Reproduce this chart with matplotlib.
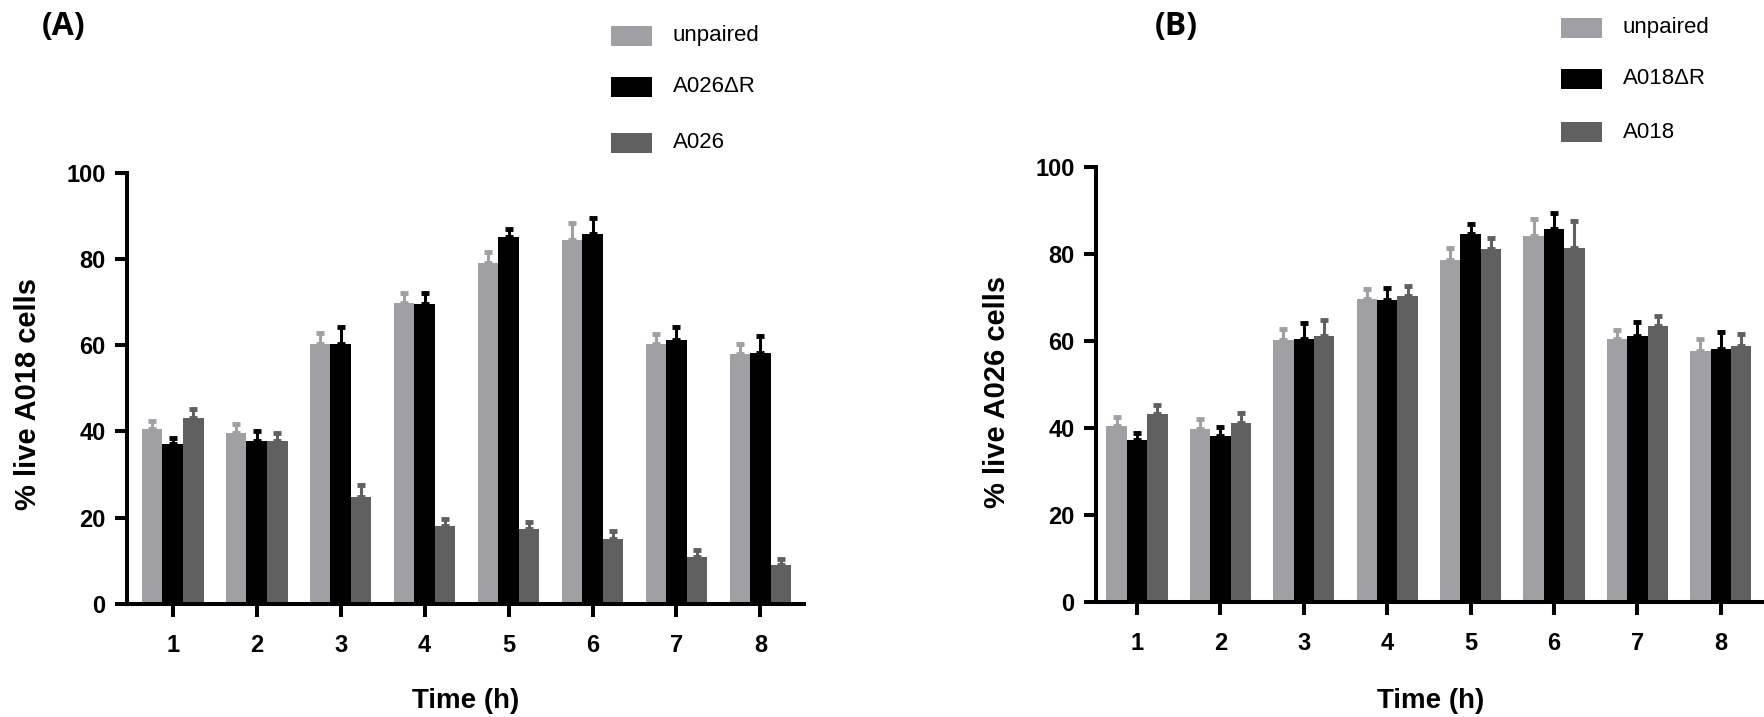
import numpy as np
import matplotlib.pyplot as plt
from matplotlib.patches import Rectangle

plt.rcParams['font.family'] = ['Liberation Sans', 'DejaVu Sans']

hours = [1, 2, 3, 4, 5, 6, 7, 8]
colors = ['#a0a0a4', '#000000', '#606060']

# panel A: % live A018 cells
labels_a = ['unpaired', 'A026\u0394R', 'A026']
unpaired_a = [40.5, 39.7, 60.3, 69.9, 79.0, 84.4, 60.4, 58.0]
unpaired_a_err = [2.0, 2.0, 2.5, 2.1, 2.7, 4.0, 2.2, 2.4]
delta_a = [37.0, 37.9, 60.4, 69.5, 85.0, 85.9, 61.1, 58.1]
delta_a_err = [1.6, 2.2, 3.9, 2.5, 1.9, 3.5, 3.2, 4.0]
a026 = [43.1, 37.7, 24.9, 18.2, 17.3, 15.0, 10.8, 9.0]
a026_err = [2.0, 2.0, 2.6, 1.6, 1.6, 2.0, 1.7, 1.4]

# panel B: % live A026 cells
labels_b = ['unpaired', 'A018\u0394R', 'A018']
unpaired_b = [40.5, 39.8, 60.2, 69.7, 78.6, 84.2, 60.5, 57.8]
unpaired_b_err = [2.2, 2.3, 2.6, 2.3, 2.9, 4.0, 2.1, 2.7]
delta_b = [37.3, 38.2, 60.5, 69.4, 84.6, 85.7, 61.1, 58.2]
delta_b_err = [1.7, 2.2, 3.8, 2.8, 2.3, 3.7, 3.3, 4.0]
a018 = [43.2, 41.1, 61.2, 70.4, 81.1, 81.4, 63.4, 58.9]
a018_err = [2.2, 2.3, 3.6, 2.2, 2.6, 6.2, 2.3, 2.8]

fig = plt.figure(figsize=(17.65, 7.17), dpi=100)
ax_a = fig.add_axes([0.0720, 0.1576, 0.3836, 0.6015])
ax_b = fig.add_axes([0.6210, 0.1600, 0.3790, 0.6067])

width = 0.245


def draw_panel(ax, series, errs, ylabel, xlim, ylab_xy, xlab_y):
    x = np.array(hours, dtype=float)
    for i, (vals, err) in enumerate(zip(series, errs)):
        pos = x + (i - 1) * width
        ax.bar(pos, vals, width=width, color=colors[i], linewidth=0)
        ax.errorbar(pos, vals, yerr=[np.zeros(len(err)), err], fmt='none',
                    ecolor=colors[i], elinewidth=2.2, capsize=3, capthick=3.5)
    ax.set_xlim(*xlim)
    ax.set_ylim(0, 100)
    ax.set_yticks([0, 20, 40, 60, 80, 100])
    ax.set_xticks(hours)
    for s in ['top', 'right']:
        ax.spines[s].set_visible(False)
    for s in ['left', 'bottom']:
        ax.spines[s].set_linewidth(2.9)
    ax.tick_params(axis='y', length=8.5, width=2.9, pad=7, labelsize=17)
    ax.tick_params(axis='x', length=9.5, width=2.9, pad=12, labelsize=17)
    for t in ax.get_xticklabels() + ax.get_yticklabels():
        t.set_fontweight('bold')
    ax.set_ylabel(ylabel, fontsize=21, fontweight='bold')
    ax.yaxis.label.set_va('center')
    ax.yaxis.set_label_coords(*ylab_xy)
    ax.set_xlabel('Time (h)', fontsize=20, fontweight='bold')
    ax.xaxis.label.set_va('center')
    ax.xaxis.set_label_coords(0.5, xlab_y)


draw_panel(ax_a, [unpaired_a, delta_a, a026], [unpaired_a_err, delta_a_err, a026_err],
           '% live A018 cells', (0.457, 8.52), (-0.146, 0.487), -0.225)
draw_panel(ax_b, [unpaired_b, delta_b, a018], [unpaired_b_err, delta_b_err, a018_err],
           '% live A026 cells', (0.51, 8.53), (-0.148, 0.483), -0.227)

# panel letters
fig.text(64 / 1765, 1 - 27 / 717, '(A)', fontsize=23, fontweight='bold',
         family=['Open Sans', 'DejaVu Sans'], ha='center', va='center')
fig.text(1176 / 1765, 1 - 27 / 717, '(B)', fontsize=23, fontweight='bold',
         family=['Open Sans', 'DejaVu Sans'], ha='center', va='center')


def draw_legend(labels, x0, ys):
    for lab, col, y in zip(labels, colors, ys):
        fig.add_artist(Rectangle((x0 / 1765, 1 - (y + 10) / 717), 41 / 1765, 20 / 717,
                                 transform=fig.transFigure, color=col, linewidth=0))
        fig.text((x0 + 62) / 1765, 1 - y / 717, lab, fontsize=16, ha='left', va='center')


draw_legend(labels_a, 611, [36, 87, 143])
draw_legend(labels_b, 1561, [28, 79, 132])

fig.savefig('out.png', dpi=100)
